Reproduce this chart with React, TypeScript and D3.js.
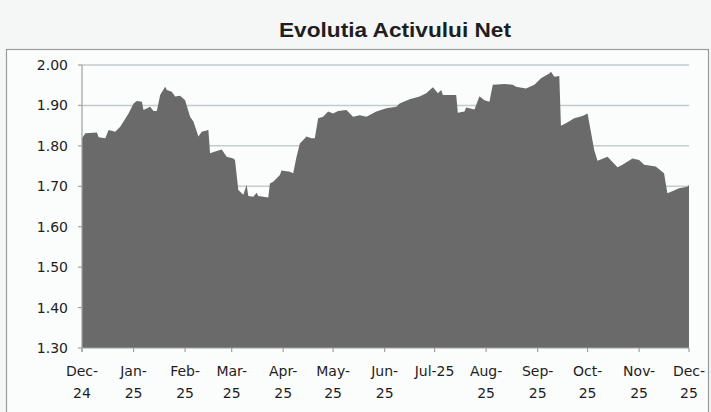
import React from "react";
import * as d3 from "d3";

const title = "Evolutia Activului Net";

const dates: string[] = [
  "2024-12-01","2024-12-03","2024-12-10","2024-12-11","2024-12-15","2024-12-17","2024-12-21","2024-12-24","2024-12-29",
  "2025-01-01","2025-01-03","2025-01-06","2025-01-07","2025-01-11","2025-01-13","2025-01-15","2025-01-17","2025-01-20","2025-01-21","2025-01-24","2025-01-26","2025-01-29",
  "2025-02-01","2025-02-04","2025-02-06","2025-02-09","2025-02-11","2025-02-15","2025-02-16","2025-02-20","2025-02-23","2025-02-26",
  "2025-03-02","2025-03-03","2025-03-05","2025-03-08","2025-03-10","2025-03-11","2025-03-14","2025-03-16","2025-03-17","2025-03-23","2025-03-24","2025-03-26","2025-03-30","2025-03-31",
  "2025-04-05","2025-04-07","2025-04-09","2025-04-11","2025-04-15","2025-04-18","2025-04-20","2025-04-22","2025-04-25","2025-04-28",
  "2025-05-01","2025-05-04","2025-05-09","2025-05-13","2025-05-17","2025-05-21","2025-05-27",
  "2025-06-02","2025-06-08","2025-06-10","2025-06-16","2025-06-22","2025-06-26","2025-06-30",
  "2025-07-03","2025-07-05","2025-07-06","2025-07-10","2025-07-14","2025-07-15","2025-07-19","2025-07-20","2025-07-25","2025-07-28","2025-07-31",
  "2025-08-03","2025-08-05","2025-08-12","2025-08-17","2025-08-19","2025-08-25","2025-08-30",
  "2025-09-03","2025-09-08","2025-09-09","2025-09-11","2025-09-14","2025-09-15","2025-09-18","2025-09-23","2025-09-28",
  "2025-10-01","2025-10-05","2025-10-07","2025-10-13","2025-10-19","2025-10-22","2025-10-28",
  "2025-11-01","2025-11-04","2025-11-11","2025-11-16","2025-11-18","2025-11-21","2025-11-25","2025-11-30","2025-12-01"
];

const values: number[] = [
  1.819,1.831,1.833,1.821,1.819,1.839,1.835,1.847,1.88,
  1.905,1.911,1.909,1.889,1.897,1.886,1.886,1.926,1.946,1.938,1.934,1.922,1.924,
  1.913,1.872,1.86,1.823,1.835,1.839,1.782,1.787,1.791,1.773,
  1.769,1.765,1.691,1.679,1.703,1.676,1.674,1.684,1.676,1.672,1.707,1.711,1.728,1.739,
  1.736,1.732,1.773,1.806,1.823,1.819,1.819,1.868,1.872,1.885,
  1.88,1.886,1.889,1.872,1.876,1.872,1.885,
  1.893,1.897,1.905,1.915,1.922,1.93,1.945,
  1.93,1.938,1.926,1.926,1.926,1.882,1.885,1.895,1.89,1.923,1.913,
  1.909,1.951,1.953,1.951,1.946,1.942,1.951,
  1.967,1.979,1.983,1.971,1.973,1.85,1.856,1.868,1.874,
  1.88,1.79,1.763,1.773,1.747,1.753,1.769,
  1.765,1.753,1.749,1.732,1.683,1.688,1.695,1.699,1.703
];

const yTicks: number[] = [1.3, 1.4, 1.5, 1.6, 1.7, 1.8, 1.9, 2.0];
const gridTicks: number[] = [1.7, 1.8, 1.9, 2.0];
const monthTicks: string[] = [
  "2024-12-01","2025-01-01","2025-02-01","2025-03-01","2025-04-01","2025-05-01","2025-06-01",
  "2025-07-01","2025-08-01","2025-09-01","2025-10-01","2025-11-01","2025-12-01"
];
const monthLabels: string[][] = [
  ["Dec-","24"],["Jan-","25"],["Feb-","25"],["Mar-","25"],["Apr-","25"],["May-","25"],["Jun-","25"],
  ["Jul-25"],["Aug-","25"],["Sep-","25"],["Oct-","25"],["Nov-","25"],["Dec-","25"]
];

const W = 711, H = 412;
const left = 82, right = 689, top = 65, bottom = 348;

export default function App() {
  const parse = d3.utcParse("%Y-%m-%d");
  const data = dates.map((d, i) => ({ date: parse(d) as Date, value: values[i] }));
  const x = d3.scaleUtc().domain([parse(monthTicks[0]) as Date, parse(monthTicks[monthTicks.length - 1]) as Date]).range([left, right]);
  const y = d3.scaleLinear().domain([1.3, 2.0]).range([bottom, top]);
  const area = d3.area<{ date: Date; value: number }>()
    .x(d => x(d.date))
    .y0(y(1.3))
    .y1(d => y(d.value))
    .curve(d3.curveLinear);
  const labelFont = "'DejaVu Sans', sans-serif";
  return (
    <svg width={W} height={H} viewBox={`0 0 ${W} ${H}`} style={{ position: "absolute", left: 0, top: 0, background: "#f5f7f7" }}>
      <rect x={0} y={0} width={W} height={H} fill="#f5f7f7" />
      <rect x={6.5} y={49.5} width={702} height={370} fill="#fbfcfc" stroke="#9a9a9a" strokeWidth={1.2} />
      <text x={395} y={37} textAnchor="middle" fontFamily="'Liberation Sans', Arial, sans-serif" fontWeight="bold" fontSize={20} textLength={232} lengthAdjust="spacingAndGlyphs" fill="#1e1e1e">{title}</text>
      {gridTicks.map(t => (
        <line key={t} x1={left} x2={right} y1={y(t)} y2={y(t)} stroke="#c3cbcc" strokeWidth={1.5} />
      ))}
      <path d={area(data) || ""} fill="#6a6a6a" />
      <line x1={left} x2={left} y1={top} y2={bottom + 4} stroke="#a0a0a0" strokeWidth={1.2} />
      <line x1={left} x2={right} y1={bottom} y2={bottom} stroke="#a0a0a0" strokeWidth={1.2} />
      {yTicks.map(t => (
        <g key={t}>
          <line x1={left - 4} x2={left} y1={y(t)} y2={y(t)} stroke="#a0a0a0" strokeWidth={1.2} />
          <text x={68} y={y(t)} dy="0.36em" textAnchor="end" fontFamily={labelFont} fontSize={14} fill="#1e1e1e">{d3.format(".2f")(t)}</text>
        </g>
      ))}
      {monthTicks.map((m, i) => {
        const xx = x(parse(m) as Date);
        return (
          <g key={m}>
            <line x1={xx} x2={xx} y1={bottom} y2={bottom + 4} stroke="#a0a0a0" strokeWidth={1.2} />
            {monthLabels[i].map((s, j) => (
              <text key={j} x={xx} y={376 + j * 21.5} textAnchor="middle" fontFamily={labelFont} fontSize={14} fill="#1e1e1e">{s}</text>
            ))}
          </g>
        );
      })}
    </svg>
  );
}
